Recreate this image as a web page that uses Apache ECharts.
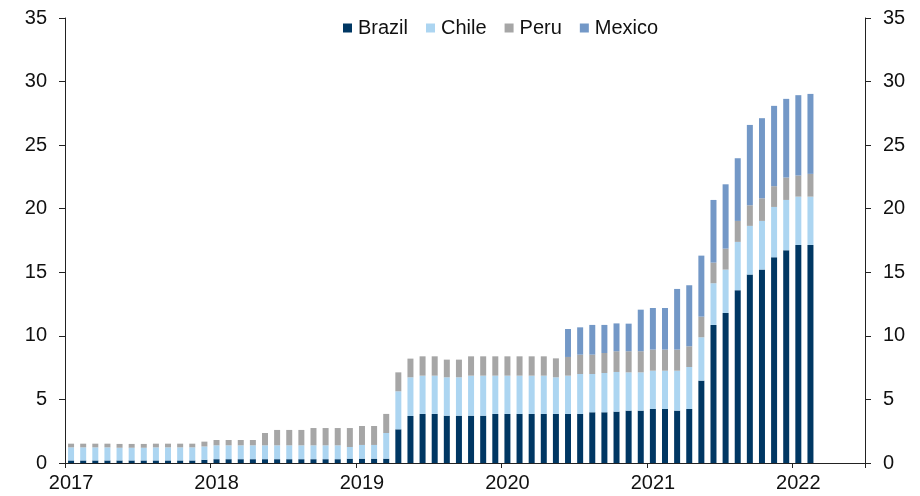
<!DOCTYPE html>
<html>
<head>
<meta charset="utf-8">
<script src="https://cdn.jsdelivr.net/npm/echarts@6/dist/echarts.min.js"></script>
<style>
html,body{margin:0;padding:0;background:#fff;}
#chart{width:920px;height:496px;}
</style>
</head>
<body>
<div id="chart"></div>
<script>
// Monthly categories Jan 2017 – Jun 2022 (data runs to Feb 2022)
var yearLabels = ['2017','2018','2019','2020','2021','2022'];
var months = [];
for (var y = 0; y < yearLabels.length; y++) {
  for (var m = 1; m <= 12; m++) {
    if (y === 5 && m > 6) break;
    months.push(yearLabels[y] + '-' + (m < 10 ? '0' + m : m));
  }
}

var brazil = [
  0.2,0.2,0.2,0.2,0.2,0.2,0.2,0.2,0.2,0.2,0.2,0.25,
  0.3,0.3,0.3,0.3,0.3,0.3,0.3,0.3,0.3,0.3,0.3,0.34,
  0.34,0.34,0.34,2.65,3.70,3.86,3.86,3.72,3.72,3.72,3.72,3.86,
  3.86,3.86,3.86,3.86,3.86,3.86,3.86,3.99,3.99,4.04,4.12,4.12,
  4.25,4.25,4.12,4.25,6.48,10.86,11.80,13.59,14.82,15.21,16.18,16.73,
  17.15,17.15
];
var chile = [
  1.03,1.03,1.03,1.03,1.0,1.0,1.0,1.03,1.03,1.03,1.03,1.05,
  1.09,1.09,1.09,1.09,1.09,1.09,1.09,1.09,1.09,1.09,1.09,0.92,
  1.08,1.08,2.02,2.99,3.04,3.01,3.01,3.02,3.02,3.15,3.15,3.01,
  3.01,3.01,3.01,3.01,2.88,3.01,3.14,3.01,3.09,3.12,3.01,3.01,
  3.01,3.01,3.14,3.30,3.41,3.28,3.41,3.80,3.83,3.83,3.96,3.96,
  3.80,3.80
];
var peru = [
  0.29,0.29,0.29,0.29,0.3,0.3,0.3,0.29,0.29,0.29,0.29,0.38,
  0.42,0.42,0.42,0.42,0.97,1.21,1.21,1.21,1.36,1.36,1.36,1.49,
  1.49,1.49,1.50,1.49,1.47,1.52,1.52,1.39,1.39,1.52,1.52,1.52,
  1.52,1.52,1.52,1.52,1.49,1.47,1.52,1.52,1.57,1.63,1.66,1.66,
  1.66,1.66,1.66,1.63,1.62,1.62,1.65,1.65,1.62,1.78,1.63,1.76,
  1.66,1.79
];
var mexico = [
  0,0,0,0,0,0,0,0,0,0,0,0,
  0,0,0,0,0,0,0,0,0,0,0,0,
  0,0,0,0,0,0,0,0,0,0,0,0,
  0,0,0,0,0,2.20,2.15,2.34,2.21,2.19,2.17,3.27,
  3.27,3.27,4.77,4.80,4.80,4.93,5.06,4.93,6.32,6.30,6.32,6.19,
  6.32,6.29
];

var seriesNames = ['Brazil','Chile','Peru','Mexico'];
var seriesData = [brazil, chile, peru, mexico];
var colors = ['#003763','#acd5f1','#a6a6a6','#7398c7'];

var font = 'Liberation Sans, Arial, sans-serif';
var chart = echarts.init(document.getElementById('chart'), null, {renderer:'canvas'});

var yAxisCommon = {
  type: 'value', min: 0, max: 35, interval: 5,
  axisLine: {show: true, lineStyle: {color: '#222', width: 1}},
  axisTick: {show: true, length: 6, lineStyle: {color: '#222'}},
  splitLine: {show: false},
  axisLabel: {color: '#111', fontSize: 20, fontFamily: font, margin: 18}
};

chart.setOption({
  animation: false,
  backgroundColor: '#fff',
  color: colors,
  legend: {
    top: 13, left: 338,
    itemWidth: 9, itemHeight: 9, itemGap: 18,
    icon: 'rect',
    textStyle: {fontSize: 20, fontFamily: font, color: '#111', padding: [0,0,0,1]},
    data: seriesNames
  },
  grid: {left: 65, right: 55, top: 18, bottom: 33, containLabel: false},
  xAxis: {
    type: 'category', data: months, boundaryGap: true,
    axisLine: {show: true, lineStyle: {color: '#222', width: 1}},
    axisTick: {show: true, length: 5, interval: 11, alignWithLabel: false, lineStyle: {color: '#222'}},
    axisLabel: {
      interval: 11, color: '#111', fontSize: 20, fontFamily: font, margin: 10,
      formatter: function (v) { return v.slice(0, 4); }
    }
  },
  yAxis: [
    Object.assign({position: 'left'}, yAxisCommon),
    Object.assign({position: 'right'}, yAxisCommon)
  ],
  series: seriesNames.map(function (name, i) {
    return {
      name: name, type: 'bar', stack: 'total', yAxisIndex: 0,
      barWidth: 6,
      data: seriesData[i],
      itemStyle: {color: colors[i]}
    };
  })
});
</script>
</body>
</html>
